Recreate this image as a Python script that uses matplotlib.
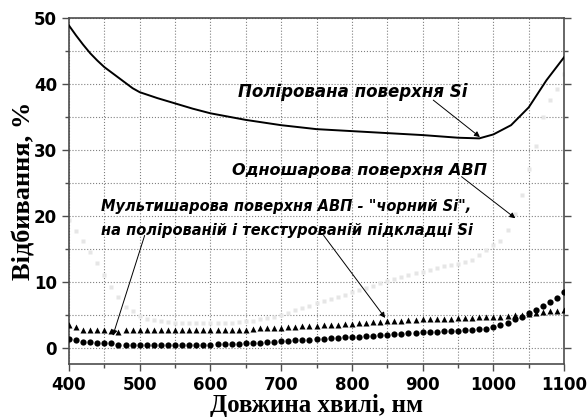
import numpy as np
import matplotlib
matplotlib.use("Agg")
import matplotlib.pyplot as plt
from matplotlib.ticker import MultipleLocator

# wavelength grid of the measured points, nm
wl = list(range(400, 1101, 10))

# multilayer black Si, textured substrate (triangles)
tri = [3.5, 3.1, 2.6, 2.6, 2.6, 2.6, 2.5, 2.4, 2.6, 2.6,
       2.6, 2.6, 2.6, 2.6, 2.6, 2.6, 2.6, 2.6, 2.6, 2.6,
       2.6, 2.6, 2.6, 2.7, 2.7, 2.7, 2.8, 2.9, 2.9, 3.0,
       3.0, 3.1, 3.1, 3.2, 3.2, 3.3, 3.4, 3.5, 3.5, 3.6,
       3.6, 3.7, 3.8, 3.9, 3.9, 4.0, 4.1, 4.1, 4.2, 4.2,
       4.3, 4.3, 4.4, 4.4, 4.4, 4.5, 4.5, 4.5, 4.6, 4.6,
       4.7, 4.7, 4.8, 4.9, 5.0, 5.1, 5.3, 5.4, 5.5, 5.6, 5.7]

# multilayer black Si, polished substrate (circles)
circ = [1.3, 1.1, 0.9, 0.8, 0.75, 0.7, 0.65, 0.4, 0.4, 0.35,
        0.35, 0.35, 0.35, 0.35, 0.35, 0.35, 0.35, 0.35, 0.35, 0.4,
        0.45, 0.5, 0.5, 0.55, 0.6, 0.65, 0.7, 0.75, 0.8, 0.9,
        0.95, 1.0, 1.1, 1.15, 1.2, 1.3, 1.35, 1.4, 1.45, 1.55,
        1.6, 1.65, 1.75, 1.8, 1.85, 1.95, 2.0, 2.05, 2.15, 2.2,
        2.3, 2.35, 2.4, 2.45, 2.5, 2.55, 2.6, 2.65, 2.8, 2.85,
        3.1, 3.5, 3.8, 4.3, 4.7, 5.2, 5.7, 6.3, 6.9, 7.5, 8.5]

# single-layer AVP (faint grey points)
single = [19.3, 17.6, 16.2, 14.5, 12.8, 11.0, 9.2, 7.7, 6.2, 5.5,
          4.8, 4.4, 4.2, 4.0, 3.9, 3.8, 3.7, 3.7, 3.7, 3.7,
          3.7, 3.7, 3.8, 3.8, 3.9, 4.0, 4.1, 4.3, 4.5, 4.7,
          5.0, 5.3, 5.7, 6.0, 6.3, 6.7, 7.0, 7.3, 7.7, 8.0,
          8.4, 8.7, 9.0, 9.4, 9.8, 10.1, 10.4, 10.7, 11.0, 11.3,
          11.5, 11.8, 12.0, 12.3, 12.5, 12.6, 12.9, 13.3, 14.0, 14.8,
          15.5, 16.1, 17.8, 20.2, 23.1, 27.1, 30.6, 35.0, 37.5, 39.2, 41.5]

# polished Si (solid line)
si_wl = [400, 410, 420, 430, 440, 450, 460, 475, 490, 500, 525, 550, 575, 600,
         625, 650, 675, 700, 750, 800, 850, 900, 950, 980, 1000, 1025, 1050,
         1075, 1100]
si_r = [48.8, 47.3, 45.9, 44.6, 43.5, 42.5, 41.7, 40.5, 39.3, 38.7, 37.8, 37.0,
        36.2, 35.5, 35.0, 34.5, 34.1, 33.7, 33.1, 32.8, 32.5, 32.2, 31.8, 31.7,
        32.3, 33.7, 36.4, 40.5, 44.0]

fig = plt.figure(figsize=(5.87, 4.19), dpi=100)
ax = fig.add_axes([0.1175, 0.131, 0.8435, 0.827])

ax.plot(wl, single, 's', ms=3.5, color='#e6e6e6', mec='none', zorder=2)
ax.plot(si_wl, si_r, '-', color='black', lw=1.4, zorder=3)
ax.plot(wl, tri, '^', ms=5, color='black', mec='none', zorder=3)
ax.plot(wl, circ, 'o', ms=4.5, color='black', mec='none', zorder=3)

ax.set_xlim(400, 1100)
ax.set_ylim(-2.5, 50)
ax.xaxis.set_major_locator(MultipleLocator(100))
ax.xaxis.set_minor_locator(MultipleLocator(50))
ax.yaxis.set_major_locator(MultipleLocator(10))
ax.yaxis.set_minor_locator(MultipleLocator(5))
ax.grid(True, which='both', linestyle=':', color='0.5', lw=0.8)
ax.tick_params(which='both', direction='out', top=False, right=True,
               color='0.3', width=1)
ax.tick_params(which='major', length=5)
ax.tick_params(which='minor', length=3)
for lab in ax.get_xticklabels() + ax.get_yticklabels():
    lab.set_fontfamily('DejaVu Sans')
    lab.set_fontweight('bold')
    lab.set_fontsize(12)
for sp in ax.spines.values():
    sp.set_color('0.3')
    sp.set_linewidth(1.2)

ax.set_xlabel('Довжина хвилі, нм', family='Liberation Serif', fontweight='bold',
              fontsize=18, labelpad=0)
ax.set_ylabel('Відбивання, %', family='Liberation Serif', fontweight='bold',
              fontsize=19, labelpad=-1)

font = dict(family='DejaVu Sans', fontweight='bold', style='italic')
arr = dict(arrowstyle='-|>', lw=0.7, color='black', mutation_scale=8,
           shrinkA=0, shrinkB=0)

ax.text(639, 38.8, 'Полірована поверхня Si', fontsize=12, va='center', **font)
ax.annotate('', xy=(981, 31.9), xytext=(915, 37.5), arrowprops=arr)

ax.text(630, 26.9, 'Одношарова поверхня АВП', fontsize=11.5, va='center', **font)
ax.annotate('', xy=(1031, 19.6), xytext=(955, 25.9), arrowprops=arr)

ax.text(445, 21.4, 'Мультишарова поверхня АВП - "чорний Si",', fontsize=10.5,
        va='center', **font)
ax.text(445, 17.7, 'на полірованій і текстурованій підкладці Si', fontsize=10.5,
        va='center', **font)
ax.annotate('', xy=(462, 1.8), xytext=(507, 17.0), arrowprops=arr)
ax.annotate('', xy=(847, 4.5), xytext=(760, 17.0), arrowprops=arr)

fig.savefig('out.png', dpi=100)
